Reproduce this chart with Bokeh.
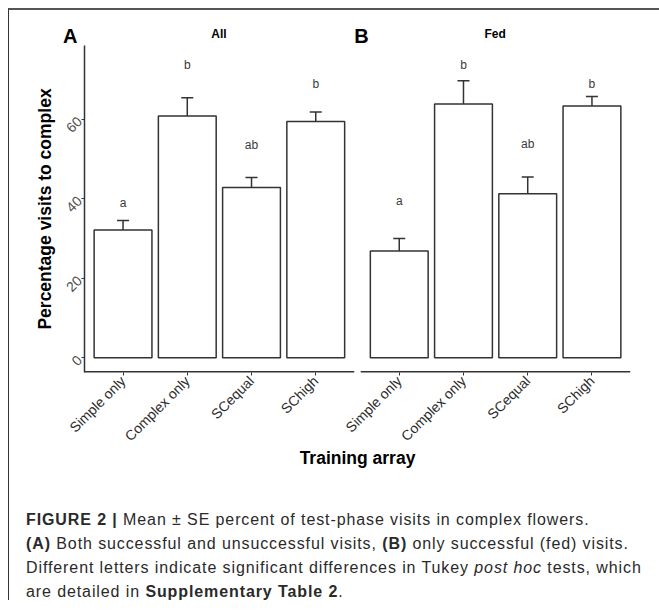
import math
from bokeh.plotting import figure
from bokeh.models import ColumnDataSource, Range1d, FixedTicker, Whisker, TeeHead, Div
from bokeh.layouts import column
from bokeh.embed import file_html
from bokeh.resources import INLINE
from bokeh.core.properties import value

# ---------------- data ----------------
categories = ["Simple only", "Complex only", "SCequal", "SChigh"]
all_mean = [32.1, 60.8, 42.8, 59.4]
all_se = [2.4, 4.55, 2.5, 2.35]
all_letters = ["a", "b", "ab", "b"]
all_letter_y = [39.0, 73.6, 53.5, 68.8]
fed_mean = [26.8, 63.8, 41.2, 63.3]
fed_se = [3.15, 5.85, 4.2, 2.35]
fed_letters = ["a", "b", "ab", "b"]
fed_letter_y = [39.4, 73.7, 53.7, 68.8]
y_ticks = [0, 20, 40, 60]
panel_titles = ["All", "Fed"]
panel_tags = ["A", "B"]

# ---------------- layout (category units) ----------------
PAD = 0.6
offB = 4.3
posA = [i + 1 for i in range(4)]
posB = [round(i + 1 + offB, 6) for i in range(4)]
A_lo, A_hi = posA[0] - PAD, posA[-1] + PAD
B_lo, B_hi = posB[0] - PAD, posB[-1] + PAD
Y0, Y1 = -3.74, 78.5

FONT = "Liberation Sans"
DARK = "#333333"

FIG_W = 650
LEFT, RIGHT = 75, 29
FRAME_W = FIG_W - LEFT - RIGHT
HEAD_H = 35

# ---------------- main plot ----------------
p = figure(width=FIG_W, height=455, x_range=Range1d(A_lo, B_hi), y_range=Range1d(Y0, Y1),
           output_backend="svg", toolbar_location=None,
           min_border_left=LEFT, min_border_right=RIGHT, min_border_top=0, min_border_bottom=128)
p.outline_line_color = None
p.grid.visible = False

for pos, mean, se, letters, ly in [(posA, all_mean, all_se, all_letters, all_letter_y),
                                   (posB, fed_mean, fed_se, fed_letters, fed_letter_y)]:
    src = ColumnDataSource(dict(x=pos, top=mean,
                                upper=[m + s for m, s in zip(mean, se)],
                                lower=[m - s for m, s in zip(mean, se)],
                                ly=ly, letters=letters))
    p.vbar(x="x", top="top", bottom=0, width=0.9, source=src,
           fill_color="white", line_color=DARK, line_width=1.5)
    p.add_layout(Whisker(base="x", upper="upper", lower="lower", source=src,
                         line_color=DARK, line_width=1.5,
                         upper_head=TeeHead(size=12, line_color=DARK, line_width=1.5),
                         lower_head=TeeHead(size=12, line_color=DARK, line_width=1.5)))
    p.text(x="x", y="ly", text="letters", source=src, text_align="center",
           text_baseline="alphabetic", text_font_size="12px", text_color="#3a3a3a",
           text_font=value(FONT))

# broken x axis lines (one per panel)
p.segment(x0=[A_lo, B_lo], y0=[Y0, Y0], x1=[A_hi, B_hi], y1=[Y0, Y0],
          line_color=DARK, line_width=3)

xa = p.xaxis[0]
xa.ticker = FixedTicker(ticks=posA + posB)
xa.major_label_overrides = {t: c for t, c in zip(posA + posB, categories + categories)}
xa.major_label_orientation = math.pi / 4
xa.axis_line_color = None
xa.major_tick_out = 3
xa.major_tick_in = 0
xa.major_tick_line_color = DARK
xa.minor_tick_line_color = None
xa.major_label_standoff = 3
xa.major_label_text_font = FONT
xa.major_label_text_font_size = "14px"
xa.major_label_text_color = "#2b2b2b"
xa.axis_label = "Training array"
xa.axis_label_text_font = FONT
xa.axis_label_text_font_size = "17.5px"
xa.axis_label_text_font_style = "bold"
xa.axis_label_text_color = "black"
xa.axis_label_standoff = -5

ya = p.yaxis[0]
ya.ticker = FixedTicker(ticks=y_ticks)
ya.major_label_orientation = math.pi / 4
ya.axis_line_color = DARK
ya.axis_line_width = 1.5
ya.major_tick_out = 3
ya.major_tick_in = 0
ya.major_tick_line_color = DARK
ya.minor_tick_line_color = None
ya.major_label_standoff = 2
ya.major_label_text_font = FONT
ya.major_label_text_font_size = "14px"
ya.major_label_text_color = "#4d4d4d"
ya.axis_label = "Percentage visits to complex"
ya.axis_label_text_font = FONT
ya.axis_label_text_font_size = "17.5px"
ya.axis_label_text_font_style = "bold"
ya.axis_label_text_color = "black"
ya.axis_label_standoff = 3

# ---------------- header strip (panel tags and titles) ----------------
k = FRAME_W / (B_hi - A_lo)          # pixels per category unit
centers = [LEFT + ((A_lo + A_hi) / 2 - A_lo) * k, LEFT + ((B_lo + B_hi) / 2 - A_lo) * k]
tag_left = [LEFT - 21, LEFT + (B_lo - A_lo) * k - 6]
spans = []
for c, t in zip(centers, panel_titles):
    spans.append(
        f'<span style="position:absolute; left:{c - 50:.1f}px; top:18px; width:100px; '
        f'text-align:center; font: bold 12px \'Liberation Sans\', sans-serif; line-height:12px; '
        f'color:black;">{t}</span>')
for l, t in zip(tag_left, panel_tags):
    spans.append(
        f'<span style="position:absolute; left:{l:.1f}px; top:16.4px; '
        f'font: bold 20px \'Liberation Sans\', sans-serif; line-height:20px; color:black;">{t}</span>')
header = Div(text=f'<div style="position:relative; width:{FIG_W}px; height:{HEAD_H}px;">'
                  + "".join(spans) + '</div>',
             width=FIG_W, height=HEAD_H, margin=(0, 0, 0, 0))

# ---------------- caption ----------------
caption_html = (
    '<div style="font-family: \'Liberation Sans\', sans-serif; font-size: 16px; '
    'letter-spacing: 0.9px; line-height: 24px; color: #2a2a2a; margin-left: 17px; '
    'padding-top: 8px; white-space: nowrap;">'
    '<b>FIGURE 2 |</b> Mean \u00b1 SE percent of test-phase visits in complex flowers.<br>'
    '<b>(A)</b> Both successful and unsuccessful visits, <b>(B)</b> only successful (fed) visits.<br>'
    'Different letters indicate significant differences in Tukey <i>post hoc</i> tests, which<br>'
    'are detailed in <b>Supplementary Table 2</b>.'
    '</div>'
)
caption = Div(text=caption_html, width=FIG_W, height=100, margin=(0, 0, 0, 0))

layout = column(header, p, caption, margin=(8, 0, 0, 8),
                styles={"border-top": "2px solid #555555", "border-left": "1px solid #333333"})

open("out.html", "w").write(file_html(layout, INLINE))
